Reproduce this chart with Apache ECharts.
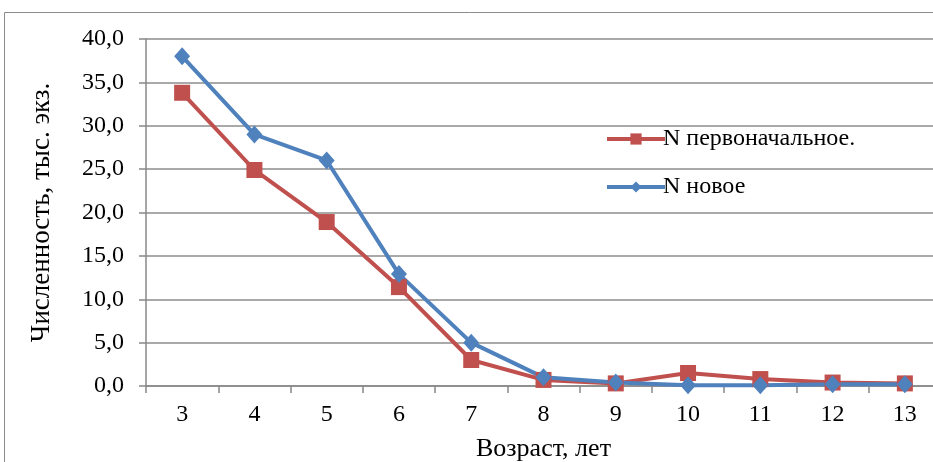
<!DOCTYPE html>
<html><head><meta charset="utf-8">
<script src="https://cdn.jsdelivr.net/npm/echarts@6/dist/echarts.min.js"></script>
<style>html,body{margin:0;padding:0;background:#fff}#c{width:933px;height:462px}</style>
</head><body><div id="c"></div>
<script>
const categories = ['3','4','5','6','7','8','9','10','11','12','13'];
const nInitial = [33.8, 24.9, 18.9, 11.4, 3.0, 0.7, 0.3, 1.5, 0.8, 0.4, 0.3];
const nNew = [38.0, 29.0, 26.0, 12.9, 5.0, 1.0, 0.4, 0.1, 0.1, 0.2, 0.2];
const seriesNames = ['N первоначальное.', 'N новое'];
const yTitle = 'Численность, тыс. экз.';
const xTitle = 'Возраст, лет';

const chart = echarts.init(document.getElementById('c'));
const font = 'Liberation Serif';
chart.setOption({
  animation: false,
  graphic: [{type:'rect', shape:{x:4.5,y:12.5,width:940,height:470}, style:{fill:'none', stroke:'#8c8c8c', lineWidth:1}, z:-1}],
  grid: {left:146, top:39, width:795, height:347, containLabel:false, outerBoundsMode:'none'},
  legend: {
    orient:'vertical', left:600, top:122, itemGap:24, itemWidth:58, itemHeight:14,
    lineStyle:{width:4},
    textStyle:{fontFamily:font, fontSize:24, color:'#000', padding:[0,0,0,-7]},
    data: seriesNames
  },
  xAxis: {
    type:'category', data:categories, boundaryGap:true,
    name:xTitle, nameLocation:'middle', nameGap:50,
    nameTextStyle:{fontFamily:font, fontSize:26, color:'#000'},
    axisLine:{lineStyle:{color:'#888', width:1.5}},
    axisTick:{show:true, length:7, lineStyle:{color:'#888', width:1.5}},
    axisLabel:{fontFamily:font, fontSize:24, color:'#000', margin:17}
  },
  yAxis: {
    type:'value', min:0, max:40, interval:5,
    name:yTitle, nameLocation:'middle', nameGap:91, nameRotate:90,
    nameTextStyle:{fontFamily:font, fontSize:27, color:'#000'},
    axisLine:{show:true, lineStyle:{color:'#888', width:1.5}},
    axisTick:{show:true, length:7, lineStyle:{color:'#888', width:1.5}},
    splitLine:{lineStyle:{color:'#8c8c8c', width:1.5}},
    axisLabel:{fontFamily:font, fontSize:24, color:'#000', margin:22,
      formatter: v => v.toFixed(1).replace('.', ',')}
  },
  series: [
    {name:seriesNames[0], type:'line', data:nInitial, symbol:'rect', symbolSize:16,
     lineStyle:{color:'#c0504d', width:4}, itemStyle:{color:'#c0504d'}},
    {name:seriesNames[1], type:'line', data:nNew, symbol:'diamond', symbolSize:[16,18],
     lineStyle:{color:'#4f81bd', width:4}, itemStyle:{color:'#4f81bd'}}
  ]
});
</script></body></html>
